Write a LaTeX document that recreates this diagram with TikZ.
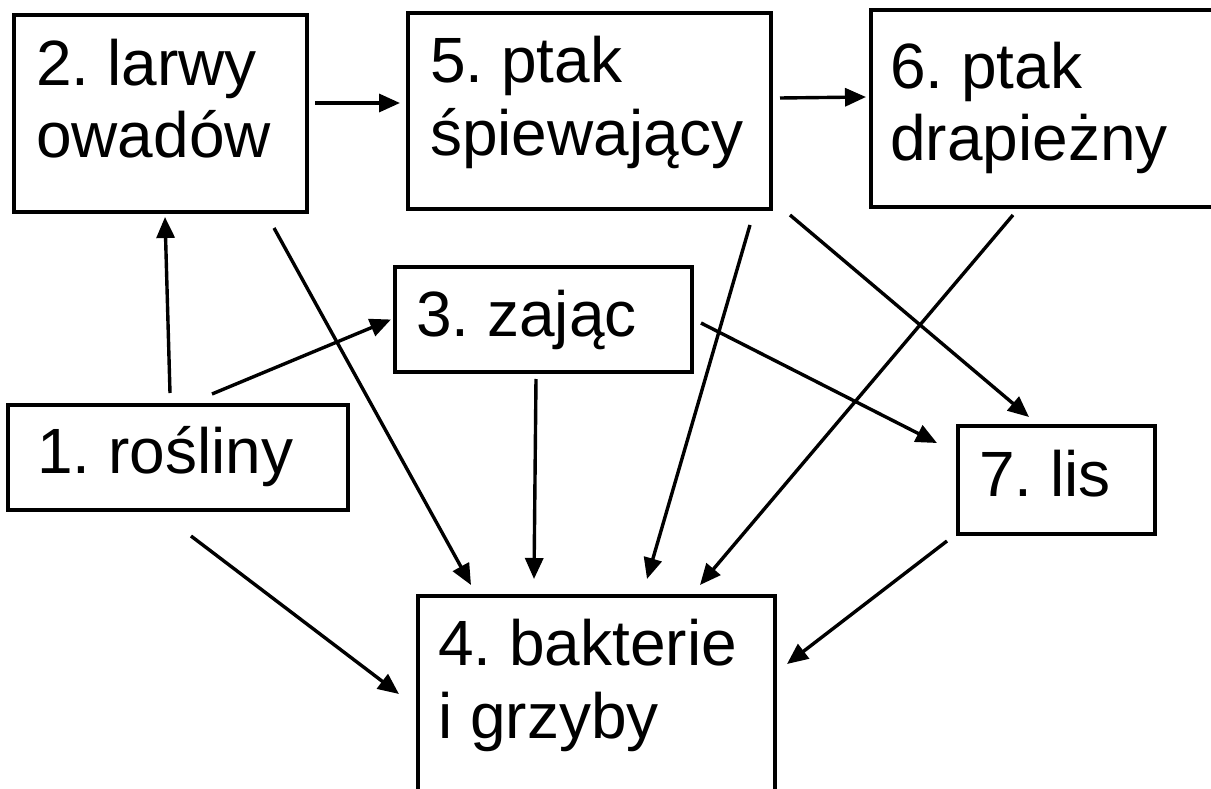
\documentclass[tikz,border=0pt]{standalone}
\usepackage{fontspec}
\setmainfont{Liberation Sans}
\usetikzlibrary{arrows.meta}
\frenchspacing

\begin{document}
\begin{tikzpicture}[x=1pt,y=-1pt,
  boxstyle/.style={draw,line width=4pt,inner sep=0pt},
  txtstyle/.style={anchor=base west,align=left,inner sep=0pt,font=\fontsize{64}{73}\selectfont},
  arrstyle/.style={line width=3.4pt,-{Triangle[length=21pt,width=18pt]}}]
	\useasboundingbox (0,0) rectangle (1211,789);

	% boxes
	\node [boxstyle,minimum width=340,minimum height=105] (b1) at (178,457.5) {};
	\node [boxstyle,minimum width=293,minimum height=197] (b2) at (160.5,113.5) {};
	\node [boxstyle,minimum width=297,minimum height=105] (b3) at (543.5,319.5) {};
	\node [boxstyle,minimum width=357,minimum height=214] (b4) at (596.5,703) {};
	\node [boxstyle,minimum width=363,minimum height=196] (b5) at (589.5,111) {};
	\node [boxstyle,minimum width=359,minimum height=197] (b6) at (1050.5,108.5) {};
	\node [boxstyle,minimum width=197,minimum height=108] (b7) at (1056.5,480) {};

	% texts (base = last line)
	\node [txtstyle] (t1) at ([shift={(31,70)}]b1.north west) {1. rośliny};
	\node [txtstyle] (t2) at ([shift={(24,145)}]b2.north west) {2. larwy\\owadów};
	\node [txtstyle] (t3) at ([shift={(23,71)}]b3.north west) {3. zając};
	\node [txtstyle] (t4) at ([shift={(22,144)}]b4.north west) {4. bakterie\\i grzyby};
	\node [txtstyle] (t5) at ([shift={(24,145)}]b5.north west) {5. ptak\\śpiewający};
	\node [txtstyle] (t6) at ([shift={(21,153)}]b6.north west) {6. ptak\\drapieżny};
	\node [txtstyle] (t7) at ([shift={(23,72)}]b7.north west) {7. lis};

	% arrows
	\draw[arrstyle] ([shift={(-8,-10)}]b1.north) -- ([shift={(4.5,3)}]b2.south);
	\draw[arrstyle] ([shift={(34,-9)}]b1.north) -- ([shift={(-2,0)}]b3.west);
	\draw[arrstyle] ([shift={(13,24)}]b1.south) -- ([shift={(-17,100)}]b4.north west);
	\draw[arrstyle] ([shift={(6,-10.5)}]b2.east) -- ([shift={(-6,-8)}]b5.west);
	\draw[arrstyle] ([shift={(113.5,14)}]b2.south) -- ([shift={(-125.5,-9)}]b4.north);
	\draw[arrstyle] ([shift={(-7.5,5)}]b3.south) -- ([shift={(-62.5,-15)}]b4.north);
	\draw[arrstyle] ([shift={(7,3.5)}]b3.east) -- ([shift={(-19,-37)}]b7.west);
	\draw[arrstyle] ([shift={(7,-13)}]b5.east) -- ([shift={(-3,-11.5)}]b6.west);
	\draw[arrstyle] ([shift={(160.5,14)}]b5.south) -- ([shift={(50.5,-15)}]b4.north);
	\draw[arrstyle] ([shift={(17,4)}]b5.south east) -- ([shift={(-27.5,-7)}]b7.north);
	\draw[arrstyle] ([shift={(144,6)}]b6.south west) -- ([shift={(103.5,-9)}]b4.north);
	\draw[arrstyle] ([shift={(-9,5)}]b7.south west) -- ([shift={(10,70)}]b4.north east);
\end{tikzpicture}
\end{document}
